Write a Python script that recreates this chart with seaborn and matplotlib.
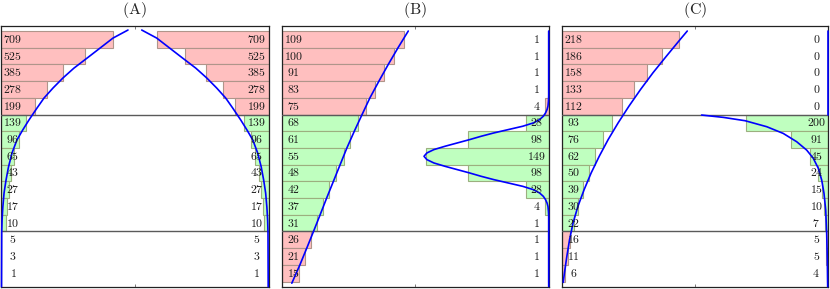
import matplotlib
matplotlib.use('Agg')
import matplotlib.pyplot as plt
import seaborn as sns
import numpy as np

# values per row, top to bottom (5 upper rows, 7 middle rows, 3 lower rows)
group_sizes = [5, 7, 3]

a_left = [709, 525, 385, 278, 199, 139, 96, 65, 43, 27, 17, 10, 5, 3, 1]
a_right = [709, 525, 385, 278, 199, 139, 96, 65, 43, 27, 17, 10, 5, 3, 1]
b_left = [109, 100, 91, 83, 75, 68, 61, 55, 48, 42, 37, 31, 26, 21, 15]
b_right = [1, 1, 1, 1, 4, 28, 98, 149, 98, 28, 4, 1, 1, 1, 1]
c_left = [218, 186, 158, 133, 112, 93, 76, 62, 50, 39, 30, 22, 16, 11, 6]
c_right = [0, 0, 0, 0, 0, 200, 91, 45, 24, 15, 10, 7, 5, 5, 4]

# fitted curves (row position, value)
a_curve_row = [-0.56, -0.08, 0.52, 1.12, 1.72, 2.31, 2.91, 3.51, 4.11, 4.83, 5.43,
               6.03, 6.81, 7.64, 8.42, 9.20, 10.04, 10.82, 11.54, 14.81]
a_curve_val = [832, 734, 649, 564, 478, 406, 341, 282, 236, 183, 142,
               104, 72, 49, 33, 20, 12, 7, 4.6, 3.3]

b_curve_left_row = [-0.5, 0.5, 1.5, 2.5, 3.5, 4.5, 5.5, 6.5, 7.5, 8.5, 9.5,
                    10.5, 11.5, 12.5, 13.5, 14.6]
b_curve_left_val = [112.6, 103.5, 94.8, 86.5, 78.5, 71.5, 64.6, 58, 52, 46, 40,
                    34.2, 28.3, 22.3, 16.2, 9]

b_curve_right_row = [-0.5, 3.4, 3.7, 4.0, 4.2, 4.4, 4.6, 4.8, 5.0, 5.2, 5.4, 5.6,
                     5.8, 6.0, 6.2, 6.4, 6.6, 6.8, 7.0, 7.2, 7.4, 7.6, 7.8, 8.0,
                     8.2, 8.4, 8.6, 8.8, 9.0, 9.2, 9.4, 9.6, 9.8, 10.0, 10.3,
                     10.6, 14.8]
b_curve_right_val = [0, 0, 0.3, 0.9, 2.0, 3.8, 6.5, 11, 18.5, 31.5, 49, 66.5,
                     82, 96, 111, 126, 139.5, 148, 151.5, 148, 139.5, 126, 111, 96,
                     82, 66.5, 49, 31.5, 18.5, 11, 6.5, 3.8, 2.0, 0.9, 0.3,
                     0, 0]

c_curve_left_row = [-0.5, 0, 1, 2, 3, 4, 5, 6, 7, 8, 9, 10, 11, 12, 13, 14, 14.55]
c_curve_left_val = [232.5, 219.5, 194, 169, 146, 124.5, 104.5, 86, 69.5, 54.5,
                    41.5, 30, 21, 14.5, 9.5, 5, 2.8]

c_curve_top_row = [-0.5, 4.5]
c_curve_top_val = [0, 0]
c_curve_right_row = [4.53, 4.67, 4.87, 5.23, 5.63, 6.13, 6.63, 7.12, 7.72, 8.42,
                     9.22, 10.22, 11.61, 13.21, 14.81]
c_curve_right_val = [309, 256, 203, 150, 110, 77, 52.7, 36.6, 24.4, 16.1,
                     10.5, 6.3, 3.9, 2.4, 1.5]

#Set Style
sns.set_style('white')
plt.rcParams['mathtext.fontset'] = 'cm'

RED = '#ffbfbf'
RED_EDGE = '#b0958a'
GREEN = '#bfffbf'
GREEN_EDGE = '#9caf7f'
EDGES = {RED: RED_EDGE, GREEN: GREEN_EDGE}

fig = plt.figure(figsize=(8.3, 2.89), dpi=100)

group_of_row = np.repeat(np.arange(3), group_sizes)


def draw_panel(rect, width_px, title, left, right, scale_l, scale_r, offset,
               colors_l, colors_r, curves_l, curves_r):
    ax = fig.add_axes(rect)
    rows = np.arange(len(left))

    # bars growing from the left edge
    for i, v in enumerate(left):
        col = colors_l[group_of_row[i]]
        if col is None or v <= 0:
            continue
        ax.barh(rows[i], offset + v * scale_l, height=1.0, left=0,
                color=col, edgecolor=EDGES[col], linewidth=0.8, zorder=1)

    # bars growing from the right edge
    for i, v in enumerate(right):
        col = colors_r[group_of_row[i]]
        if col is None or v <= 0:
            continue
        w = offset + v * scale_r
        ax.barh(rows[i], w, height=1.0, left=width_px - w,
                color=col, edgecolor=EDGES[col], linewidth=0.8, zorder=1)

    # separators between the row groups
    for b in np.cumsum(group_sizes)[:-1]:
        ax.axhline(b - 0.5, color='#5a5a5a', lw=1.0, zorder=2.6)

    # fitted curves
    for r, v in curves_l:
        sns.lineplot(x=np.array(v) * scale_l, y=r, sort=False, estimator=None,
                     color='#0000ff', lw=1.2, ax=ax, zorder=3, clip_on=False)
    for r, v in curves_r:
        sns.lineplot(x=width_px - np.array(v) * scale_r, y=r, sort=False,
                     estimator=None, color='#0000ff', lw=1.2, ax=ax, zorder=3,
                     clip_on=False)

    # value labels
    for i in rows:
        ax.text(12, i, '$%d$' % left[i], ha='center', va='center',
                fontsize=8.5, color='#1a1a1a', zorder=5)
        ax.text(width_px - 12, i, '$%d$' % right[i], ha='center', va='center',
                fontsize=8.5, color='#1a1a1a', zorder=5)

    ax.set_xlim(0, width_px)
    ax.set_ylim(14.81, -0.82)
    ax.set_xticks([width_px / 2])
    ax.set_yticks([])
    ax.tick_params(axis='x', direction='in', top=True, bottom=True, length=2.5,
                   width=0.6, color='#666666', labelbottom=False)
    for s in ax.spines.values():
        s.set_color('#222222')
        s.set_linewidth(0.9)
    ax.text(0.5, 1.06, r'$\mathrm{%s}$' % title, transform=ax.transAxes,
            ha='center', va='center', fontsize=11.5)
    return ax


H = 261 / 289
B0 = 2.3 / 289

draw_panel([1 / 830, B0, 267.7 / 830, H], 267.7, '(A)', a_left, a_right,
           0.1526, 0.1526, 3.5,
           [RED, GREEN, None], [RED, GREEN, None],
           [(a_curve_row, a_curve_val)], [(a_curve_row, a_curve_val)])

draw_panel([281.7 / 830, B0, 267 / 830, H], 267, '(B)', b_left, b_right,
           1.124, 0.823, 0,
           [RED, GREEN, RED], [RED, GREEN, RED],
           [(b_curve_left_row, b_curve_left_val)],
           [(b_curve_right_row, b_curve_right_val)])

draw_panel([561.7 / 830, B0, 266.6 / 830, H], 266.6, '(C)', c_left, c_right,
           0.54, 0.41, 0,
           [RED, GREEN, RED], [RED, GREEN, RED],
           [(c_curve_left_row, c_curve_left_val)],
           [(c_curve_top_row, c_curve_top_val),
            (c_curve_right_row, c_curve_right_val)])

fig.savefig('out.png', dpi=100)
